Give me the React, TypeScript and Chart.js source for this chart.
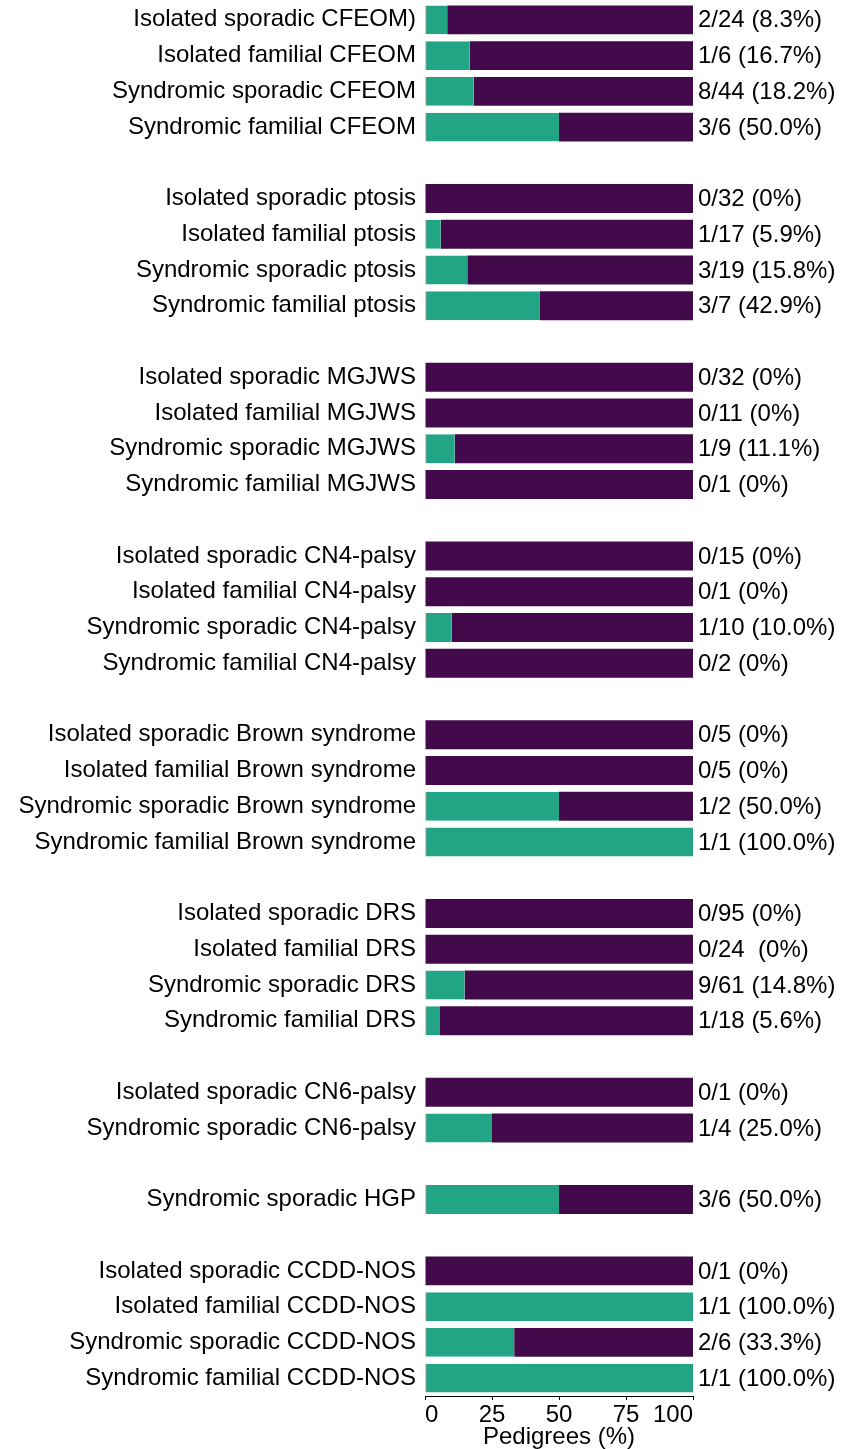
import React, { useEffect, useRef } from "react";
import { Chart, registerables } from "chart.js";

Chart.register(...registerables);

const categories: string[] = [
  "Isolated sporadic CFEOM)", "Isolated familial CFEOM", "Syndromic sporadic CFEOM", "Syndromic familial CFEOM", "",
  "Isolated sporadic ptosis", "Isolated familial ptosis", "Syndromic sporadic ptosis", "Syndromic familial ptosis", "",
  "Isolated sporadic MGJWS", "Isolated familial MGJWS", "Syndromic sporadic MGJWS", "Syndromic familial MGJWS", "",
  "Isolated sporadic CN4-palsy", "Isolated familial CN4-palsy", "Syndromic sporadic CN4-palsy", "Syndromic familial CN4-palsy", "",
  "Isolated sporadic Brown syndrome", "Isolated familial Brown syndrome", "Syndromic sporadic Brown syndrome", "Syndromic familial Brown syndrome", "",
  "Isolated sporadic DRS", "Isolated familial DRS", "Syndromic sporadic DRS", "Syndromic familial DRS", "",
  "Isolated sporadic CN6-palsy", "Syndromic sporadic CN6-palsy", "",
  "Syndromic sporadic HGP", "",
  "Isolated sporadic CCDD-NOS", "Isolated familial CCDD-NOS", "Syndromic sporadic CCDD-NOS", "Syndromic familial CCDD-NOS",
];

const positivePct: (number | null)[] = [
  8.3, 16.7, 18.2, 50.0, null,
  0, 5.9, 15.8, 42.9, null,
  0, 0, 11.1, 0, null,
  0, 0, 10.0, 0, null,
  0, 0, 50.0, 100.0, null,
  0, 0, 14.8, 5.6, null,
  0, 25.0, null,
  50.0, null,
  0, 100.0, 33.3, 100.0,
];

const negativePct: (number | null)[] = [
  91.7, 83.3, 81.8, 50.0, null,
  100, 94.1, 84.2, 57.1, null,
  100, 100, 88.9, 100, null,
  100, 100, 90.0, 100, null,
  100, 100, 50.0, 0, null,
  100, 100, 85.2, 94.4, null,
  100, 75.0, null,
  50.0, null,
  100, 0, 66.7, 0,
];

const annotations: string[] = [
  "2/24 (8.3%)", "1/6 (16.7%)", "8/44 (18.2%)", "3/6 (50.0%)", "",
  "0/32 (0%)", "1/17 (5.9%)", "3/19 (15.8%)", "3/7 (42.9%)", "",
  "0/32 (0%)", "0/11 (0%)", "1/9 (11.1%)", "0/1 (0%)", "",
  "0/15 (0%)", "0/1 (0%)", "1/10 (10.0%)", "0/2 (0%)", "",
  "0/5 (0%)", "0/5 (0%)", "1/2 (50.0%)", "1/1 (100.0%)", "",
  "0/95 (0%)", "0/24  (0%)", "9/61 (14.8%)", "1/18 (5.6%)", "",
  "0/1 (0%)", "1/4 (25.0%)", "",
  "3/6 (50.0%)", "",
  "0/1 (0%)", "1/1 (100.0%)", "2/6 (33.3%)", "1/1 (100.0%)",
];

const xTicks: number[] = [0, 25, 50, 75, 100];

const FONT = "'Liberation Sans', Arial, Helvetica, sans-serif";
const TEAL = "#21a585";
const PURPLE = "#430a4b";

const annotationPlugin = {
  id: "rightAnnotations",
  afterDatasetsDraw(chart: any) {
    const { ctx, chartArea, scales } = chart;
    const y = scales.y;
    ctx.save();
    ctx.font = `24px ${FONT}`;
    ctx.fillStyle = "#000";
    ctx.textAlign = "left";
    ctx.textBaseline = "middle";
    annotations.forEach((t, i) => {
      if (!t) return;
      ctx.fillText(t, chartArea.right + 5, y.getPixelForValue(i) + 1);
    });
    ctx.restore();
  },
};

export default function App() {
  const ref = useRef<HTMLCanvasElement | null>(null);

  useEffect(() => {
    document.body.style.margin = "0";
    const canvas = ref.current;
    if (!canvas) return;
    Chart.defaults.font.family = FONT;
    Chart.defaults.font.size = 24;
    Chart.defaults.color = "#000";
    const chart = new Chart(canvas, {
      type: "bar",
      data: {
        labels: categories,
        datasets: [
          {
            label: "Positive",
            data: positivePct,
            backgroundColor: TEAL,
            borderColor: "#1f3f38",
            borderWidth: { left: 1, right: 0, top: 0, bottom: 0 },
            borderSkipped: false,
            barPercentage: 0.81,
            categoryPercentage: 1,
          },
          {
            label: "Negative",
            data: negativePct,
            backgroundColor: PURPLE,
            borderWidth: 0,
            barPercentage: 0.81,
            categoryPercentage: 1,
          },
        ],
      },
      options: {
        indexAxis: "y",
        animation: false,
        responsive: false,
        maintainAspectRatio: false,
        layout: { padding: { top: 2, right: 148, left: 0, bottom: 0 } },
        plugins: {
          legend: { display: false },
          tooltip: { enabled: false },
          title: { display: false },
        },
        scales: {
          x: {
            stacked: true,
            min: 0,
            max: 100,
            afterBuildTicks: (s: any) => {
              s.ticks = xTicks.map((v) => ({ value: v }));
            },
            afterFit: (s: any) => {
              s.height = 53;
              s.paddingLeft = 0;
              s.paddingRight = 0;
            },
            grid: {
              display: true,
              drawOnChartArea: false,
              drawTicks: true,
              tickLength: 4,
              color: "#000",
            },
            border: { display: true, color: "#000", width: 1 },
            ticks: {
              align: "inner",
              padding: 1,
              font: { size: 24, family: FONT },
              color: "#000",
              maxRotation: 0,
            },
            title: {
              display: true,
              text: "Pedigrees (%)",
              font: { size: 24, family: FONT, lineHeight: 1 },
              color: "#000",
              padding: { top: 0, bottom: 0 },
            },
          },
          y: {
            stacked: true,
            afterFit: (s: any) => {
              s.width = 425;
              s.paddingTop = 0;
              s.paddingBottom = 0;
            },
            grid: { display: false, drawTicks: false },
            border: { display: false },
            ticks: {
              autoSkip: false,
              padding: 9,
              font: { size: 24, family: FONT },
              color: "#000",
            },
          },
        },
      },
      plugins: [annotationPlugin],
    } as any);
    return () => chart.destroy();
  }, []);

  return (
    <div style={{ width: 841, height: 1449 }}>
      <canvas ref={ref} width={841} height={1449} style={{ display: "block", width: 841, height: 1449 }} />
    </div>
  );
}
